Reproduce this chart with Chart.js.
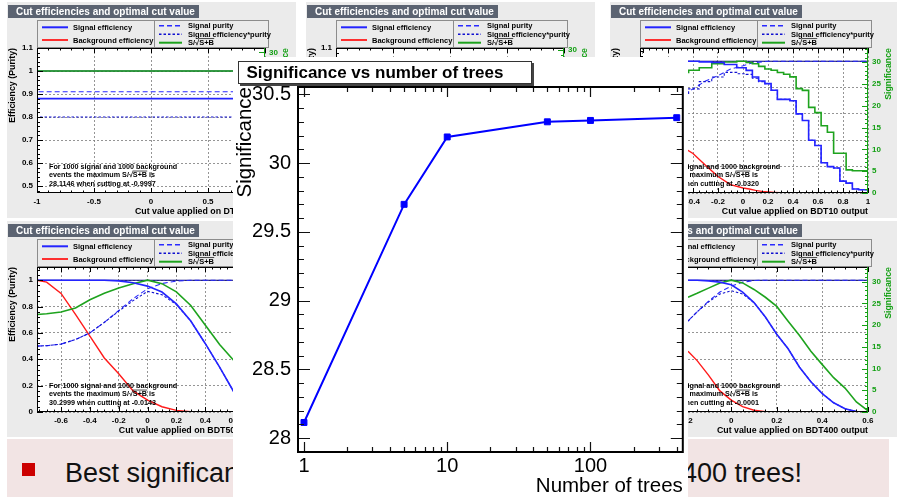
<!DOCTYPE html>
<html>
<head>
<meta charset="utf-8">
<title>Significance vs number of trees</title>
<script src="https://cdn.jsdelivr.net/npm/chart.js@4.4.1/dist/chart.umd.min.js"></script>
<style>
  body { margin: 0; background: #fff; }
  #slide { position: relative; width: 897px; height: 501px; overflow: hidden; background: #fff;
           font-family: "Liberation Sans", Arial, Helvetica, sans-serif; }
  .panel { position: absolute; width: 289px; height: 216px; background: #ebebeb; }
  .panel canvas { display: block; }
  #banner { position: absolute; left: 7px; top: 439px; width: 882px; height: 58px; background: #f2e4e4; }
  #bullet { position: absolute; left: 22px; top: 463px; width: 13px; height: 13px; background: #cc0000; }
  .btxt { position: absolute; top: 456px; font-size: 27px; line-height: 34px; color: #111; white-space: nowrap; }
  #main { position: absolute; left: 233px; top: 57px; width: 455px; height: 441px; background: #fff; }
  #main canvas { display: block; }
</style>
</head>
<body>
<div id="slide">
  <div class="panel" style="left:7px;top:2px"><canvas id="pTL" width="289" height="216"></canvas></div>
  <div class="panel" style="left:306px;top:2px"><canvas id="pTM" width="289" height="216"></canvas></div>
  <div class="panel" style="left:610px;top:2px"><canvas id="pTR" width="289" height="216"></canvas></div>
  <div class="panel" style="left:7px;top:221px"><canvas id="pBL" width="289" height="216"></canvas></div>
  <div class="panel" style="left:610px;top:221px"><canvas id="pBR" width="289" height="216"></canvas></div>

  <div id="banner"></div>
  <div id="bullet"></div>
  <div class="btxt" style="left:65px">Best significance</div>
  <div class="btxt" style="right:95px">400 trees!</div>

  <div id="main"><canvas id="sigChart" width="455" height="441"></canvas></div>
</div>

<script>
/* significance of the best cut, per forest size */
var nTrees       = [1, 5, 10, 50, 100, 400];
var significance = [28.1146, 29.70, 30.19, 30.2999, 30.31, 30.33];
var sigTicks     = [28, 28.5, 29, 29.5, 30, 30.5];
var treeTicks    = [1, 10, 100];
var treeMinor    = [2, 3, 4, 5, 6, 7, 8, 9, 20, 30, 40, 50, 60, 70, 80, 90, 200, 300, 400];

/* cut efficiency curves: 1 tree */
var cutDT    = [-1, -0.9997, 1];
var effSigDT = [1, 0.88, 0.88];
var effBkgDT = [1, 0.087, 0.087];
var purDT    = [0.5, 0.91, 0.91];
var effPurDT = [0.5, 0.80, 0.80];
var sosDT    = [22.4, 28.1146, 28.1146];

/* 10 trees */
var cut10    = [-0.47, -0.4, -0.3, -0.2, -0.1, 0, 0.05, 0.1, 0.15, 0.2, 0.25, 0.3, 0.35, 0.4, 0.45, 0.5, 0.55, 0.6, 0.65, 0.7, 0.75, 0.8, 0.85, 0.9, 0.95, 1];
var effSig10 = [1, 1, 0.995, 0.99, 0.975, 0.95, 0.93, 0.88, 0.85, 0.83, 0.78, 0.71, 0.71, 0.70, 0.60, 0.55, 0.40, 0.36, 0.23, 0.20, 0.19, 0.09, 0.075, 0.03, 0.025, 0.025];
var effBkg10 = [0.34, 0.30, 0.21, 0.125, 0.063, 0.038, 0.03, 0.02, 0.012, 0.008, 0.005, 0.003, 0.001, null, null, null, null, null, null, null, null, null, null, null, null, null];
var pur10    = [0.75, 0.79, 0.85, 0.89, 0.94, 0.965, 0.98, 0.99, 0.995, 1, 1, 1, 1, 1, 1, 1, 1, 1, 1, 1, 1, 1, 1, 1, 1, 1];
var effPur10 = [0.75, 0.79, 0.845, 0.88, 0.915, 0.905, 0.9, 0.87, 0.845, 0.83, 0.78, 0.71, 0.71, 0.70, 0.60, 0.55, 0.40, 0.36, 0.23, 0.20, 0.19, 0.09, 0.075, 0.03, 0.025, 0.025];
var sos10    = [27.6, 28.1, 28.7, 29.6, 30.0, 30.19, 29.9, 29.6, 29.0, 28.4, 28.1, 27.6, 27.2, 26.6, 23.9, 23.5, 19.6, 18.4, 15.4, 13.9, 9.1, 9.1, 5.3, 5.1, 5.1, 5.1];

/* 50 trees */
var cut50    = [-0.767, -0.7, -0.6, -0.5, -0.4, -0.3, -0.2, -0.1, 0, 0.1, 0.2, 0.3, 0.4, 0.5, 0.6];
var effSig50 = [1, 1, 1, 1, 1, 1, 0.995, 0.98, 0.955, 0.91, 0.82, 0.69, 0.52, 0.34, 0.15];
var effBkg50 = [1, 0.985, 0.9, 0.74, 0.575, 0.41, 0.29, 0.16, 0.09, 0.04, 0.012, 0.002, null, null, null];
var pur50    = [0.5, 0.503, 0.515, 0.55, 0.6, 0.68, 0.77, 0.86, 0.935, 0.975, 0.993, 1, 1, 1, 1];
var effPur50 = [0.5, 0.503, 0.515, 0.55, 0.6, 0.68, 0.765, 0.845, 0.915, 0.89, 0.815, 0.69, 0.52, 0.34, 0.15];
var sos50    = [22.4, 22.6, 23.0, 23.9, 25.8, 27.3, 28.5, 29.5, 30.2999, 29.5, 27.6, 24.5, 20.0, 15.5, 11.8];

/* 400 trees */
var cut400    = [-0.19, -0.15, -0.1, -0.05, 0, 0.05, 0.1, 0.15, 0.2, 0.25, 0.3, 0.35, 0.4, 0.45, 0.5, 0.55, 0.6];
var effSig400 = [1, 1, 0.995, 0.985, 0.965, 0.91, 0.83, 0.72, 0.59, 0.48, 0.34, 0.23, 0.14, 0.07, 0.025, 0.003, 0];
var effBkg400 = [0.46, 0.39, 0.28, 0.16, 0.09, 0.04, 0.013, 0.002, 0.0005, null, null, null, null, null, null, null, null];
var pur400    = [0.69, 0.76, 0.84, 0.91, 0.955, 0.985, 0.997, 1, 1, 1, 1, 1, 1, 1, 1, 1, 1];
var effPur400 = [0.69, 0.76, 0.835, 0.895, 0.92, 0.895, 0.83, 0.72, 0.59, 0.48, 0.34, 0.23, 0.14, 0.07, 0.025, 0.003, 0];
var sos400    = [26.4, 27.3, 28.5, 29.7, 30.33, 29.7, 28.2, 26.4, 24.3, 20.9, 17.6, 14.0, 10.9, 7.9, 5.5, 2.3, 0.3];

/* panel axis ticks */
var xTicksWide = [-1, -0.5, 0, 0.5, 1];
var xTicks10   = [-0.8, -0.6, -0.4, -0.2, 0, 0.2, 0.4, 0.6, 0.8, 1];
var xTicks50   = [-0.6, -0.4, -0.2, 0, 0.2, 0.4, 0.6, 0.8];
var xTicks400  = [-0.4, -0.2, 0, 0.2, 0.4, 0.6];
var effTicksHi = [0.5, 0.6, 0.7, 0.8, 0.9, 1, 1.1];
var effTicks   = [0, 0.2, 0.4, 0.6, 0.8, 1];
var sosTicks   = [0, 5, 10, 15, 20, 25, 30];

var FONT = '"Liberation Sans", Arial, Helvetica, sans-serif';
Chart.defaults.font.family = FONT;

var styles = {
  eff:    { label: 'Signal efficiency',        color: '#2424ff', dash: [],     width: 1.6, order: 1 },
  bkg:    { label: 'Background efficiency',    color: '#ff1a1a', dash: [],     width: 1.4, order: 5 },
  pur:    { label: 'Signal purity',            color: '#2a2aff', dash: [5, 3], width: 1.1, order: 4 },
  effPur: { label: 'Signal efficiency*purity', color: '#1010d0', dash: [2.5, 2], width: 1.1, order: 3 },
  sos:    { label: 'S/\u221AS+B',              color: '#1ea31e', dash: [],     width: 1.6, order: 2 }
};
var SOS_GREEN = '#14a014';

function fmt(v) { return String(Math.round(v * 1000) / 1000); }
function fixTicks(vals) {
  return function (s) { s.ticks = vals.map(function (v) { return { value: v }; }); };
}
function steps(lo, hi, step) {
  var out = [];
  for (var v = Math.ceil(lo / step - 1e-6) * step; v <= hi + 1e-9; v += step) out.push(Math.round(v * 1e4) / 1e4);
  return out;
}

function series(key, xs, ys, stepped, scale) {
  var s = styles[key];
  return {
    label: s.label,
    data: xs.map(function (x, i) { return { x: x, y: scale ? ys[i] / scale : ys[i] }; }),
    borderColor: s.color, backgroundColor: s.color, borderDash: s.dash, borderWidth: s.width,
    pointRadius: 0, fill: false, tension: 0, spanGaps: false, stepped: stepped ? 'middle' : false, order: s.order
  };
}

/* S/sqrt(S+B) with the bar over S+B */
function sosText(ctx, text, x, y, size) {
  ctx.fillText(text, x, y);
  var k = text.indexOf('\u221A');
  if (k < 0) return;
  var x0 = x + ctx.measureText(text.slice(0, k + 1)).width - 0.3;
  var x1 = x0 + ctx.measureText(text.slice(k + 1, k + 4)).width + 0.5;
  ctx.save();
  ctx.strokeStyle = ctx.fillStyle; ctx.lineWidth = 0.7;
  ctx.beginPath(); ctx.moveTo(x0, y - size * 0.62); ctx.lineTo(x1, y - size * 0.62); ctx.stroke();
  ctx.restore();
}

var panelCfg = {
  pTL: { cut: cutDT, eff: effSigDT, bkg: effBkgDT, pur: purDT, effPur: effPurDT, sos: sosDT, smax: significance[0],
         xr: [-1, 1], xt: xTicksWide, xm: 0.1, yr: [0.47, 1.1], yt: effTicksHi, ym: 0.02,
         xTitle: 'Cut value applied on DT output', cutOpt: '-0.9997' },
  pTM: { cut: [], eff: [], bkg: [], pur: [], effPur: [], sos: [], smax: significance[1], y2max: 30.4,
         xr: [-1, 1], xt: xTicksWide, xm: 0.1, yr: [0.47, 1.1], yt: effTicksHi, ym: 0.02,
         xTitle: 'Cut value applied on BDT5 output', cutOpt: null },
  pTR: { cut: cut10, eff: effSig10, bkg: effBkg10, pur: pur10, effPur: effPur10, sos: sos10, smax: significance[2], step: true,
         xr: [-0.824, 1], xt: xTicks10, xm: 0.05, yr: [0, 1.1], yt: effTicks, ym: 0.04,
         xTitle: 'Cut value applied on BDT10 output', cutOpt: '-0.0320' },
  pBL: { cut: cut50, eff: effSig50, bkg: effBkg50, pur: pur50, effPur: effPur50, sos: sos50, smax: significance[3],
         xr: [-0.767, 0.815], xt: xTicks50, xm: 0.05, yr: [0, 1.1], yt: effTicks, ym: 0.04,
         xTitle: 'Cut value applied on BDT50 output', cutOpt: '-0.0143' },
  pBR: { cut: cut400, eff: effSig400, bkg: effBkg400, pur: pur400, effPur: effPur400, sos: sos400, smax: significance[5],
         xr: [-0.401, 0.601], xt: xTicks400, xm: 0.05, yr: [0, 1.1], yt: effTicks, ym: 0.04,
         xTitle: 'Cut value applied on BDT400 output', cutOpt: '-0.0001' }
};

function inTick(ctx, side, a, p, len) {
  if (side === 'bottom') { ctx.moveTo(p, a.bottom); ctx.lineTo(p, a.bottom - len); }
  else if (side === 'top') { ctx.moveTo(p, a.top); ctx.lineTo(p, a.top + len); }
  else if (side === 'left') { ctx.moveTo(a.left, p); ctx.lineTo(a.left + len, p); }
  else { ctx.moveTo(a.right, p); ctx.lineTo(a.right - len, p); }
}

var panelDeco = {
  id: 'panelDeco',
  beforeDraw: function (chart) {
    var a = chart.chartArea, ctx = chart.ctx;
    ctx.save();
    ctx.fillStyle = '#fff';
    ctx.fillRect(a.left, a.top, a.right - a.left, a.bottom - a.top);
    ctx.restore();
  },
  afterDraw: function (chart) {
    var p = panelCfg[chart.canvas.id];
    var ctx = chart.ctx, a = chart.chartArea;
    var sx = chart.scales.x, sy = chart.scales.y, s2 = chart.scales.y2;
    var ds = chart.data.datasets;
    ctx.save();

    // frame and inward ticks
    ctx.strokeStyle = '#000'; ctx.lineWidth = 1;
    ctx.strokeRect(a.left + 0.5, a.top + 0.5, a.right - a.left - 1, a.bottom - a.top - 1);
    ctx.beginPath();
    steps(p.xr[0], p.xr[1], p.xm).forEach(function (v) {
      var px = Math.round(sx.getPixelForValue(v)) + 0.5;
      var len = p.xt.indexOf(v) >= 0 ? 5 : 2.5;
      inTick(ctx, 'bottom', a, px, len); inTick(ctx, 'top', a, px, len);
    });
    steps(p.yr[0], p.yr[1], p.ym).forEach(function (v) {
      var py = Math.round(sy.getPixelForValue(v)) + 0.5;
      inTick(ctx, 'left', a, py, p.yt.indexOf(v) >= 0 ? 6 : 3);
    });
    ctx.stroke();

    // significance axis on the right
    ctx.strokeStyle = SOS_GREEN;
    ctx.beginPath();
    ctx.moveTo(a.right - 0.5, a.top); ctx.lineTo(a.right - 0.5, a.bottom);
    steps(s2.min, s2.max, 1).forEach(function (v) {
      var py = Math.round(s2.getPixelForValue(v)) + 0.5;
      inTick(ctx, 'right', a, py, sosTicks.indexOf(v) >= 0 ? 6 : 3);
    });
    ctx.stroke();

    // axis titles
    ctx.font = 'bold 8.8px ' + FONT;
    ctx.textBaseline = 'middle';
    ctx.textAlign = 'right';
    ctx.fillStyle = '#000';
    ctx.fillText(p.xTitle, a.right, 210);
    ctx.save(); ctx.translate(6, a.top); ctx.rotate(-Math.PI / 2);
    ctx.fillText('Efficiency (Purity)', 0, 0); ctx.restore();
    ctx.save(); ctx.fillStyle = SOS_GREEN; ctx.translate(279, a.top); ctx.rotate(-Math.PI / 2);
    ctx.fillText('Significance', 0, 0); ctx.restore();

    // annotation
    if (p.cutOpt) {
      ctx.textAlign = 'left';
      ctx.font = 'bold 7.2px ' + FONT;
      ctx.fillText('For 1000 signal and 1000 background', 42, 165);
      sosText(ctx, 'events the maximum S/\u221AS+B is', 42, 173.5, 7.2);
      ctx.fillText(p.smax.toFixed(4) + ' when cutting at ' + p.cutOpt, 42, 182);
    }

    // title box
    ctx.fillStyle = '#5b6371';
    ctx.fillRect(1, 3, 191, 13);
    ctx.fillStyle = '#fff';
    ctx.textAlign = 'left';
    ctx.font = 'bold 10px ' + FONT;
    ctx.fillText('Cut efficiencies and optimal cut value', 9, 9.8);

    // legend box, two columns
    ctx.strokeStyle = '#8c8c8c'; ctx.lineWidth = 1;
    ctx.strokeRect(30.5, 18.5, 231, 27);
    ctx.beginPath(); ctx.moveTo(147.5, 18.5); ctx.lineTo(147.5, 45.5); ctx.stroke();
    var rows = [[0, 35, 61, 66, 25.3], [1, 35, 61, 66, 38], [2, 152, 175, 181, 23.7], [3, 152, 175, 181, 32.3], [4, 152, 175, 181, 40.7]];
    ctx.font = 'bold 7.5px ' + FONT;
    rows.forEach(function (r) {
      var d = ds[r[0]];
      ctx.strokeStyle = d.borderColor; ctx.lineWidth = d.borderWidth + 0.4;
      ctx.setLineDash(d.borderDash);
      ctx.beginPath(); ctx.moveTo(r[1], r[4]); ctx.lineTo(r[2], r[4]); ctx.stroke();
      ctx.setLineDash([]);
      ctx.fillStyle = '#000';
      sosText(ctx, d.label, r[3], r[4] + 0.5, 7.5);
    });
    ctx.restore();
  }
};

function makePanel(id) {
  var p = panelCfg[id];
  var datasets = [
    series('eff', p.cut, p.eff, p.step),
    series('bkg', p.cut, p.bkg, false),
    series('pur', p.cut, p.pur, false),
    series('effPur', p.cut, p.effPur, p.step),
    // TMVA draws S/sqrt(S+B) scaled to its maximum, on the efficiency axis
    series('sos', p.cut, p.sos, p.step, p.smax),
    { label: '', data: [{ x: p.xr[0], y: 1 }, { x: p.xr[1], y: 1 }], borderColor: '#00007a',
      borderWidth: 1.1, pointRadius: 0, order: 10 }
  ];
  var tickFont = { size: 8, weight: 'bold', family: FONT };
  return new Chart(document.getElementById(id), {
    type: 'line',
    data: { datasets: datasets },
    options: {
      responsive: false, animation: false, devicePixelRatio: 1,
      layout: { padding: { top: 46, left: 0, right: 0, bottom: 0 } },
      plugins: { legend: { display: false }, tooltip: { enabled: false } },
      scales: {
        x: {
          type: 'linear', min: p.xr[0], max: p.xr[1],
          afterBuildTicks: fixTicks(p.xt),
          afterFit: function (s) { s.height = 25; s.paddingLeft = 0; s.paddingRight = 0; },
          grid: { color: '#7a7a7a', lineWidth: 0.8, drawTicks: false },
          border: { display: false, dash: [2, 2] },
          ticks: { padding: 4, font: tickFont, color: '#000', autoSkip: false, maxRotation: 0, callback: fmt }
        },
        y: {
          type: 'linear', min: p.yr[0], max: p.yr[1],
          afterBuildTicks: fixTicks(p.yt),
          afterFit: function (s) { s.width = 30; },
          grid: { color: '#7a7a7a', lineWidth: 0.8, drawTicks: false },
          border: { display: false, dash: [2, 2] },
          ticks: { padding: 4, font: tickFont, color: '#000', callback: fmt }
        },
        y2: {
          type: 'linear', position: 'right', min: 0, max: p.y2max || 1.1 * p.smax,
          afterBuildTicks: fixTicks(sosTicks),
          afterFit: function (s) { s.width = 31; },
          grid: { display: false, drawTicks: false },
          border: { display: false },
          ticks: { padding: 4, font: tickFont, color: SOS_GREEN, callback: fmt }
        }
      }
    },
    plugins: [panelDeco]
  });
}

['pTL', 'pTM', 'pTR', 'pBL', 'pBR'].forEach(makePanel);

/* ROOT-style frame: ticks pointing inwards on all sides, boxed title */
var rootFrame = {
  id: 'rootFrame',
  afterDraw: function (chart) {
    var ctx = chart.ctx, a = chart.chartArea, sx = chart.scales.x, sy = chart.scales.y;
    ctx.save();
    ctx.strokeStyle = '#111';
    ctx.lineWidth = 1.2;
    ctx.beginPath();
    steps(sigTicks[0], sy.max, 0.1).forEach(function (v) {
      var py = Math.round(sy.getPixelForValue(v)) + 0.5;
      var len = sigTicks.indexOf(v) >= 0 ? 12 : 6;
      inTick(ctx, 'left', a, py, len); inTick(ctx, 'right', a, py, len);
    });
    treeTicks.concat(treeMinor).forEach(function (v) {
      var px = Math.round(sx.getPixelForValue(v)) + 0.5;
      var len = treeTicks.indexOf(v) >= 0 ? 10 : 5;
      inTick(ctx, 'bottom', a, px, len); inTick(ctx, 'top', a, px, len);
    });
    ctx.stroke();

    ctx.lineWidth = 2;
    ctx.strokeStyle = '#000';
    ctx.strokeRect(a.left, a.top, a.right - a.left, a.bottom - a.top);

    // title box with a small shadow
    ctx.fillStyle = '#444';
    ctx.fillRect(7, 6, 294, 23);
    ctx.fillStyle = '#fff';
    ctx.fillRect(5, 4, 294, 23);
    ctx.lineWidth = 1;
    ctx.strokeStyle = '#333';
    ctx.strokeRect(5.5, 4.5, 293, 22);
    ctx.fillStyle = '#000';
    ctx.font = 'bold 17px ' + FONT;
    ctx.textBaseline = 'middle';
    ctx.textAlign = 'left';
    ctx.fillText('Significance vs number of trees', 13.5, 16);
    ctx.restore();
  }
};

new Chart(document.getElementById('sigChart'), {
  type: 'line',
  data: {
    datasets: [{
      label: 'Significance',
      data: nTrees.map(function (n, i) { return { x: n, y: significance[i] }; }),
      borderColor: '#0000ff', backgroundColor: '#0000ff', borderWidth: 2,
      pointStyle: 'rect', pointRadius: 4.2, pointBorderWidth: 1, tension: 0, fill: false
    }]
  },
  options: {
    responsive: false, animation: false, devicePixelRatio: 1,
    layout: { padding: { top: 30, right: 4, left: 0, bottom: 0 } },
    plugins: { legend: { display: false }, tooltip: { enabled: false } },
    scales: {
      x: {
        type: 'logarithmic', min: 0.9084, max: 441,
        afterBuildTicks: fixTicks(treeTicks),
        afterFit: function (s) { s.height = 46; s.paddingLeft = 0; s.paddingRight = 0; },
        grid: { display: false, drawTicks: false },
        border: { display: false },
        ticks: { padding: 2, font: { size: 20, family: FONT }, color: '#000', autoSkip: false, maxRotation: 0,
                 callback: function (v) { return String(v); } },
        title: { display: true, text: 'Number of trees', align: 'end', color: '#000', padding: 0,
                 font: { size: 20.5, family: FONT, lineHeight: 1.1 } }
      },
      y: {
        type: 'linear', min: 27.9, max: 30.553,
        afterBuildTicks: fixTicks(sigTicks),
        afterFit: function (s) { s.width = 65; },
        grid: { display: false, drawTicks: false },
        border: { display: false },
        ticks: { padding: 7, font: { size: 20, family: FONT }, color: '#000', callback: function (v) { return String(v); } },
        title: { display: true, text: 'Significance', align: 'end', color: '#000', padding: 0,
                 font: { size: 20.5, family: FONT, lineHeight: 1.2 } }
      }
    }
  },
  plugins: [rootFrame]
});
</script>
</body>
</html>
